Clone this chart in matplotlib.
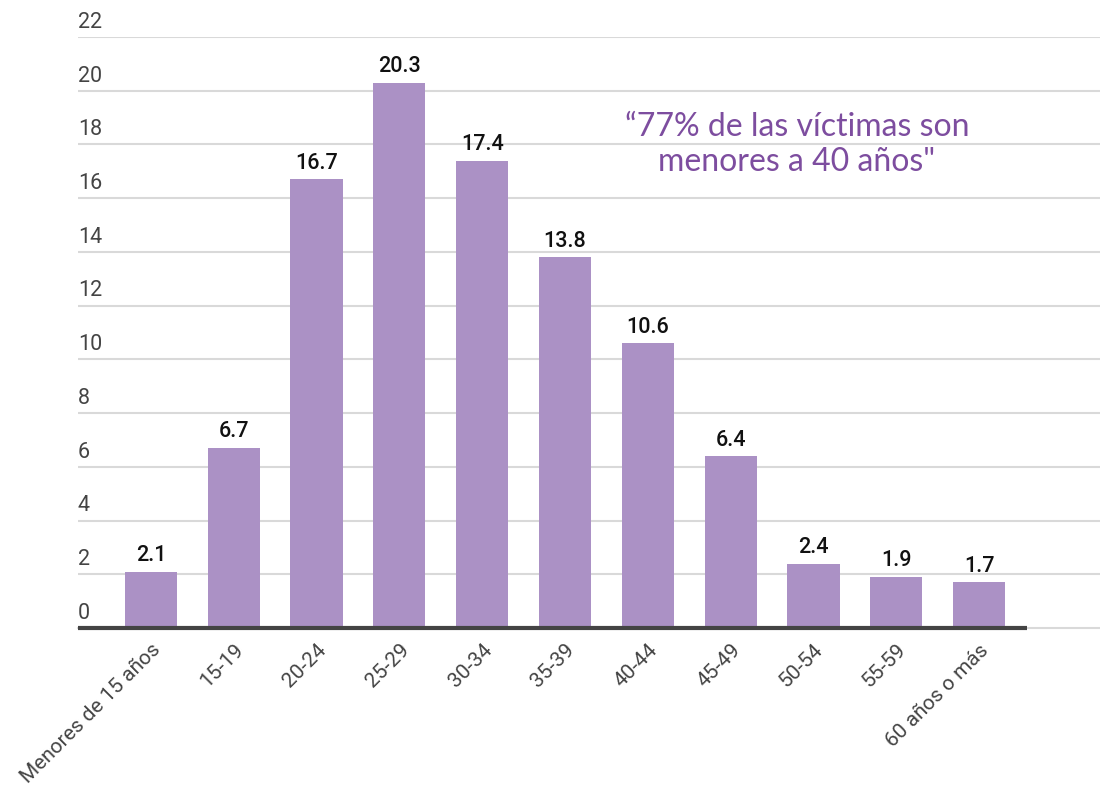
import matplotlib
matplotlib.use("Agg")
from matplotlib import pyplot as plt
import numpy as np

# edades de las victimas (%)
categories = ["Menores de 15 años", "15-19", "20-24", "25-29", "30-34", "35-39",
              "40-44", "45-49", "50-54", "55-59", "60 años o más"]
values = [2.1, 6.7, 16.7, 20.3, 17.4, 13.8, 10.6, 6.4, 2.4, 1.9, 1.7]
yticks = list(range(0, 23, 2))
quote = "“77% de las víctimas son\nmenores a 40 años\""

bar_color = "#ab91c5"
text_gray = "#444444"
quote_color = "#7d4d9f"

plt.rcParams['font.family'] = ['Roboto', 'DejaVu Sans']

fig = plt.figure(figsize=(11, 7.88), dpi=100)
ax = fig.add_axes([78/1100, 1 - 628/788, 1 - 78/1100, (628 - 37)/788])

x = np.arange(len(categories))
ax.bar(x, values, width=0.63, color=bar_color, zorder=2)

for xi, v in zip(x, values):
    ax.annotate(f"{v}", (xi, v), xytext=(0, 4), textcoords="offset points",
                ha="center", va="bottom", fontsize=15.5, color="#111111", fontweight="medium")

ax.set_xlim(-0.88, 11.46)
ax.set_ylim(0, 22)

# grid lines + labels sitting above them
for t in yticks:
    if t > 0:
        ax.axhline(t, color="#d9d9d9", lw=1.5, zorder=1)
    ax.annotate(str(t), (0.0, t), xycoords=ax.get_yaxis_transform(), xytext=(0, 3),
                textcoords="offset points", ha="left", va="bottom", fontsize=15.5, color=text_gray)

ax.axhline(0, color="#d9d9d9", lw=1.5, zorder=1, clip_on=False)
ax.hlines(0, -0.88, len(categories) - 0.42, color="#444444", lw=3, zorder=3, clip_on=False)

ax.set_yticks([])
ax.set_xticks(x)
ax.set_xticklabels(categories, rotation=45, ha="right", rotation_mode="anchor",
                   fontsize=15, color=text_gray)
ax.tick_params(axis="x", length=0, pad=9)
for s in ax.spines.values():
    s.set_visible(False)

ax.text(7.8, 18.0, quote, ha="center", va="center", fontsize=23, color=quote_color,
        family=["Lato", "DejaVu Sans"], linespacing=1.2)

fig.savefig("out.png", dpi=100)
